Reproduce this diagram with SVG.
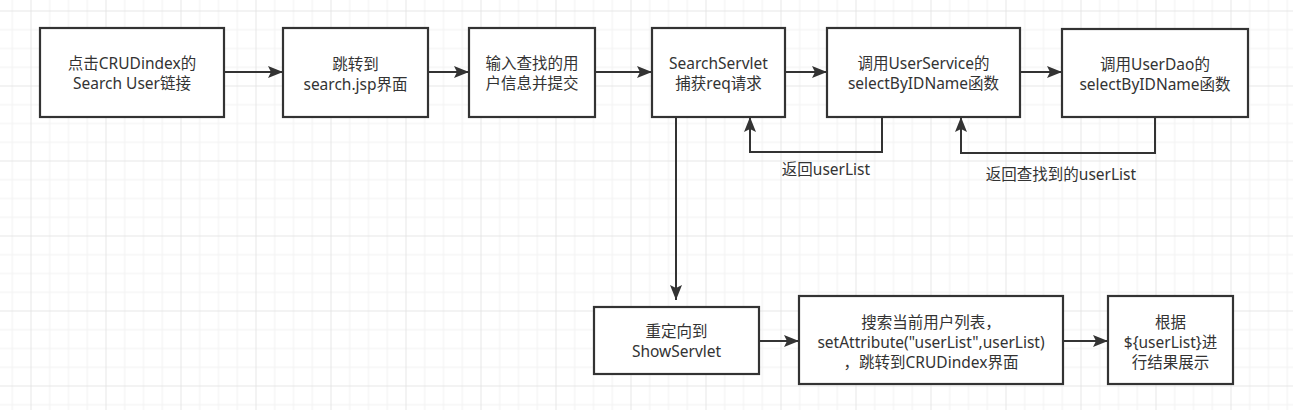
<svg xmlns="http://www.w3.org/2000/svg" width="1293" height="410" viewBox="0 0 1293 410">
<defs>
<pattern id="grid" patternUnits="userSpaceOnUse" x="30.5" y="10.5" width="75" height="75">
<rect width="75" height="75" fill="#ffffff"/>
<g fill="#f2f2f2">
<rect x="18.75" y="0" width="1" height="75"/>
<rect x="37.5" y="0" width="1" height="75"/>
<rect x="56.25" y="0" width="1" height="75"/>
<rect x="0" y="18.75" width="75" height="1"/>
<rect x="0" y="37.5" width="75" height="1"/>
<rect x="0" y="56.25" width="75" height="1"/>
</g>
<g fill="#e6e6e6">
<rect x="0" y="0" width="1" height="75"/>
<rect x="0" y="0" width="75" height="1"/>
</g>
</pattern>
<marker id="arr" markerUnits="userSpaceOnUse" markerWidth="17" markerHeight="14" viewBox="-16 -7 17 14" refX="0" refY="0" orient="auto">
<path d="M0,0 L-15,-6 L-12,0 L-15,6 Z" fill="#333333"/>
</marker>
</defs>
<style>
.box{fill:#ffffff;stroke:#333333;stroke-width:2.2}
.t{font-family:"Noto Sans","Noto Sans CJK SC",sans-serif;font-size:15.5px;fill:#333333;text-anchor:middle}
.c{fill:none;stroke:#333333;stroke-width:2;marker-end:url(#arr)}
</style>
<rect width="1293" height="410" fill="url(#grid)"/>

<g id="connectors">
<path class="c" d="M224,72 L283,72"/>
<path class="c" d="M428,72 L469,72"/>
<path class="c" d="M595,72 L652,72"/>
<path class="c" d="M785,72 L827,72"/>
<path class="c" d="M1020,72 L1062,72"/>
<path class="c" d="M882,117 L882,152 L750,152 L750,117"/>
<path class="c" d="M1155,117 L1155,153 L961,153 L961,117"/>
<path class="c" d="M676,117 L676,300"/>
<path class="c" d="M759,341 L799,341"/>
<path class="c" d="M1063,341 L1108,341"/>
<text class="t" x="826" y="175">返回userList</text>
<text class="t" x="1061" y="180">返回查找到的userList</text>
</g>

<g id="n1">
<rect class="box" x="40" y="28" width="184" height="89"/>
<text class="t" x="132" y="68.5">点击CRUDindex的</text>
<text class="t" x="132" y="88.5">Search User链接</text>
</g>
<g id="n2">
<rect class="box" x="283" y="28" width="145" height="89"/>
<text class="t" x="355.5" y="69.5">跳转到</text>
<text class="t" x="355.5" y="89.5">search.jsp界面</text>
</g>
<g id="n3">
<rect class="box" x="469" y="28" width="126" height="89"/>
<text class="t" x="532" y="68.5">输入查找的用</text>
<text class="t" x="532" y="88.5">户信息并提交</text>
</g>
<g id="n4">
<rect class="box" x="652" y="28" width="133" height="89"/>
<text class="t" x="718.5" y="68.5">SearchServlet</text>
<text class="t" x="718.5" y="88.5">捕获req请求</text>
</g>
<g id="n5">
<rect class="box" x="827" y="28" width="193" height="89"/>
<text class="t" x="923.5" y="69">调用UserService的</text>
<text class="t" x="923.5" y="89">selectByIDName函数</text>
</g>
<g id="n6">
<rect class="box" x="1062" y="29" width="186" height="88"/>
<text class="t" x="1155" y="69.5">调用UserDao的</text>
<text class="t" x="1155" y="89.5">selectByIDName函数</text>
</g>
<g id="n7">
<rect class="box" x="594" y="307" width="165" height="67"/>
<text class="t" x="676.5" y="337">重定向到</text>
<text class="t" x="676.5" y="357">ShowServlet</text>
</g>
<g id="n8">
<rect class="box" x="799" y="296" width="264" height="88"/>
<text class="t" x="931" y="327.5">搜索当前用户列表，</text>
<text class="t" x="931" y="347.5">setAttribute("userList",userList)</text>
<text class="t" x="931" y="367.5">，跳转到CRUDindex界面</text>
</g>
<g id="n9">
<rect class="box" x="1108" y="296" width="125" height="88"/>
<text class="t" x="1170.5" y="327.5">根据</text>
<text class="t" x="1170.5" y="347.5">${userList}进</text>
<text class="t" x="1170.5" y="367.5">行结果展示</text>
</g>
</svg>
